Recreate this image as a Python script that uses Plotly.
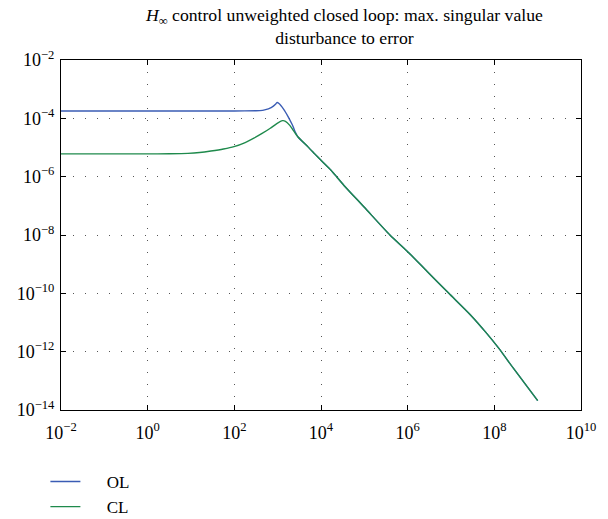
import plotly.graph_objects as go

# Low-frequency part of the open-loop response (before it joins the closed loop)
ol_freq = [0.01, 1, 10, 100, 316, 389, 501, 708, 891, 955, 1072, 1380, 1738, 2089, 2291, 2512]
ol_mag = [1.78e-4, 1.78e-4, 1.78e-4, 1.79e-4, 1.82e-4, 1.84e-4, 1.95e-4, 2.34e-4,
          3.02e-4, 3.47e-4, 3.24e-4, 2.04e-4, 1.15e-4, 6.76e-5, 5.01e-5, 3.55e-5]

# Low-frequency part of the closed-loop response
cl_freq = [0.01, 1, 3.16, 8.5, 15.8, 28.8, 56.2, 98, 178, 282, 447, 676, 955,
           1288, 1514, 1905, 2291]
cl_mag = [6.03e-6, 6.03e-6, 6.10e-6, 6.31e-6, 6.76e-6, 7.59e-6, 8.91e-6, 1.07e-5,
          1.48e-5, 2.09e-5, 3.09e-5, 4.57e-5, 6.61e-5, 8.32e-5, 7.94e-5, 5.75e-5, 3.89e-5]

# High-frequency roll-off shared by both responses
tail_freq = [2951, 5012, 7079, 1.0e4, 1.70e4, 2.29e4, 3.39e4, 1.0e5, 3.89e5, 1.0e6,
             2.82e6, 8.91e6, 2.82e7, 6.31e7, 1.26e8, 2.69e8, 1.0e9]
tail_mag = [2.29e-5, 1.05e-5, 6.17e-6, 3.63e-6, 1.66e-6, 1.0e-6, 5.01e-7, 8.91e-8,
            1.0e-8, 2.69e-9, 5.62e-10, 1.0e-10, 1.82e-11, 4.68e-12, 1.32e-12,
            2.82e-13, 2.09e-14]

x_ticks = [1e-2, 1e0, 1e2, 1e4, 1e6, 1e8, 1e10]
x_labels = ["10<sup>−2</sup>", "10<sup>0</sup>", "10<sup>2</sup>", "10<sup>4</sup>",
            "10<sup>6</sup>", "10<sup>8</sup>", "10<sup>10</sup>"]
y_ticks = [1e-14, 1e-12, 1e-10, 1e-8, 1e-6, 1e-4, 1e-2]
y_labels = ["10<sup>−14</sup>", "10<sup>−12</sup>", "10<sup>−10</sup>", "10<sup>−8</sup>",
            "10<sup>−6</sup>", "10<sup>−4</sup>", "10<sup>−2</sup>"]

TITLE = ("<i>H</i><sub>∞</sub> control unweighted closed loop: max. singular value"
         "<br>disturbance to error")

SERIF = "Liberation Serif, Times New Roman, serif"
GAP = "\u00a0" * 5

fig = go.Figure()
fig.add_trace(go.Scatter(
    x=ol_freq + tail_freq, y=ol_mag + tail_mag, name=GAP + "OL", mode="lines",
    line=dict(color="#3a5cb4", width=1.4, shape="spline", smoothing=0.6),
))
fig.add_trace(go.Scatter(
    x=cl_freq + tail_freq, y=cl_mag + tail_mag, name=GAP + "CL", mode="lines",
    line=dict(color="#1f8a4c", width=1.4, shape="spline", smoothing=0.6),
))

axis_common = dict(
    type="log",
    showline=True, linecolor="black", linewidth=1, mirror="allticks",
    ticks="inside", ticklen=5, tickcolor="black", tickwidth=1,
    showgrid=True, gridcolor="#555555", gridwidth=1, griddash="1px,11px",
    zeroline=False,
    tickfont=dict(family=SERIF, size=18, color="black"),
)

fig.update_xaxes(range=[-2, 10], tickvals=x_ticks, ticktext=x_labels,
                 ticklabelstandoff=6, **axis_common)
fig.update_yaxes(range=[-14, -2], tickvals=y_ticks, ticktext=y_labels,
                 ticklabelstandoff=2, **axis_common)

# Two-line heading placed just above the plotting area
fig.add_annotation(
    text=TITLE, xref="paper", yref="paper", x=0.545, y=1, xanchor="center",
    yanchor="bottom", yshift=10, showarrow=False, align="center",
    font=dict(family=SERIF, size=17.7, color="black"),
)

fig.update_layout(
    width=608, height=519,
    margin=dict(l=61, r=19, t=60, b=109),
    paper_bgcolor="white", plot_bgcolor="white",
    legend=dict(
        x=-0.03, xanchor="left", yref="container", y=1 - 464 / 519, yanchor="top",
        font=dict(family=SERIF, size=17, color="black"),
        bgcolor="rgba(0,0,0,0)", itemwidth=30, tracegroupgap=0,
    ),
    showlegend=True,
)

fig.write_html("out.html")
